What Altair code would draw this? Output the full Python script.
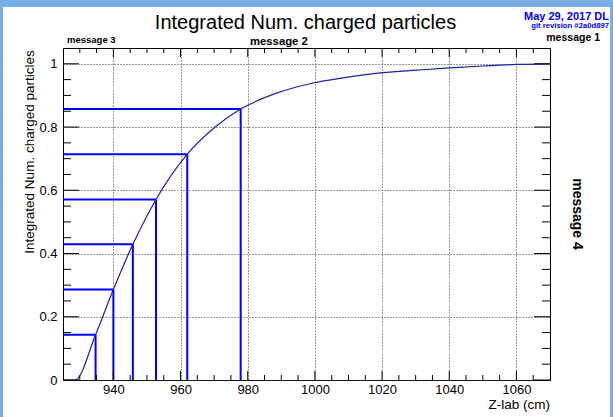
import altair as alt
import pandas as pd

# ---- data ----
curve_z = [925.0, 928.6, 934.7, 940.0, 945.8, 952.7, 962.0, 970.3, 977.9, 987.7,
           1000.2, 1007.5, 1020.1, 1030.4, 1040.1, 1050.2, 1060.2, 1070.0]
curve_v = [0.0, 0.0, 0.143, 0.286, 0.429, 0.571, 0.714, 0.800, 0.857, 0.904,
           0.941, 0.954, 0.972, 0.980, 0.987, 0.993, 0.998, 1.0]
step_z = [934.7, 940.0, 945.8, 952.7, 962.0, 977.9]
step_v = [0.143, 0.286, 0.429, 0.571, 0.714, 0.857]

x_major = [940, 960, 980, 1000, 1020, 1040, 1060]
x_minor = [930, 935, 945, 950, 955, 965, 970, 975, 985, 990, 995, 1005, 1010,
           1015, 1025, 1030, 1035, 1045, 1050, 1055, 1065]
y_major = [0.0, 0.2, 0.4, 0.6, 0.8, 1.0]
y_minor = [0.05, 0.1, 0.15, 0.25, 0.3, 0.35, 0.45, 0.5, 0.55, 0.65, 0.7, 0.75,
           0.85, 0.9, 0.95]

title_text = "Integrated Num. charged particles"
ytitle_text = "Integrated Num. charged particles"
xtitle_text = "Z-lab (cm)"
date_text = "May 29, 2017 DL"
git_text = "git revision #2a0d897"
msg1, msg2, msg3, msg4 = "message 1", "message 2", "message 3", "message 4"

# ---- layout ----
W, H = 487, 332
PL, PT = 63, 48
FONT = "Liberation Sans"
BLUE_FRAME = "#7aaee6"

xscale = alt.Scale(domain=[925, 1070], nice=False, zero=False)
yscale = alt.Scale(domain=[0, 1.05], nice=False, zero=False)
xaxis = alt.Axis(values=x_major, grid=True, gridDash=[1, 2], gridColor="#333333",
                 gridWidth=1, ticks=False, domain=False, labelFontSize=13,
                 labelFont=FONT, labelColor="black", labelPadding=3, title=None,
                 labelFlush=False, format="d")
yaxis = alt.Axis(values=y_major, grid=True, gridDash=[1, 2], gridColor="#333333",
                 gridWidth=1, ticks=False, domain=False, labelFontSize=13,
                 labelFont=FONT, labelColor="black", labelPadding=6, title=None,
                 format="~g", labelFlush=False)

def X():
    return alt.X("z:Q", scale=xscale, axis=xaxis)

def Y():
    return alt.Y("v:Q", scale=yscale, axis=yaxis)

curve_df = pd.DataFrame({"z": curve_z, "v": curve_v})
step_df = pd.DataFrame({"z": step_z, "v": step_v})

layers = []

# frame strips
for (x0, x1, y0, y1) in [(-PL, W + 63, -PT, -PT + 7), (-PL, -PL + 3, -PT, H + 37),
                         (W + 60, W + 63, -PT, H + 37)]:
    layers.append(alt.Chart(pd.DataFrame({"a": [0]})).mark_rect(color=BLUE_FRAME).encode(
        x=alt.value(x0), x2=alt.value(x1), y=alt.value(y0), y2=alt.value(y1)))

# step lines
layers.append(alt.Chart(step_df).mark_rule(color="#0000ff", strokeWidth=2).encode(
    x=X(), x2=alt.value(0), y=Y()))
layers.append(alt.Chart(step_df).mark_rule(color="#0000ff", strokeWidth=2).encode(
    x=X(), y=Y(), y2=alt.value(H)))

# curve
layers.append(alt.Chart(curve_df).mark_line(color="#1e1eb0", strokeWidth=1.2,
                                            interpolate="monotone").encode(x=X(), y=Y()))

# inward ticks
def xticks(vals, length):
    df = pd.DataFrame({"z": vals})
    out = []
    out.append(alt.Chart(df).mark_rule(color="black", strokeWidth=1).encode(
        x=X(), y=alt.value(H), y2=alt.value(H - length)))
    out.append(alt.Chart(df).mark_rule(color="black", strokeWidth=1).encode(
        x=X(), y=alt.value(0), y2=alt.value(length)))
    return out

def yticks(vals, length):
    df = pd.DataFrame({"v": vals})
    out = []
    out.append(alt.Chart(df).mark_rule(color="black", strokeWidth=1).encode(
        y=Y(), x=alt.value(0), x2=alt.value(length)))
    out.append(alt.Chart(df).mark_rule(color="black", strokeWidth=1).encode(
        y=Y(), x=alt.value(W), x2=alt.value(W - length)))
    return out

layers += xticks(x_major, 9) + xticks(x_minor, 5)
layers += yticks(y_major, 16) + yticks(y_minor, 8)

# texts
def text(t, x, y, size, bold=False, color="black", align="left", angle=0, baseline="alphabetic"):
    kw = dict(font=FONT, fontSize=size, color=color, align=align, baseline=baseline)
    if bold:
        kw["fontWeight"] = "bold"
    if angle:
        kw["angle"] = angle
    return alt.Chart(pd.DataFrame({"t": [t]})).mark_text(**kw).encode(
        text="t:N", x=alt.value(x), y=alt.value(y))

layers += [
    text(title_text, 305.5 - PL, 29 - PT, 20, align="center"),
    text(date_text, 609 - PL, 20 - PT, 11, bold=True, color="#0000ff", align="right"),
    text(git_text, 609 - PL, 27.5 - PT, 7.7, bold=True, color="#0000ff", align="right"),
    text(msg1, 600 - PL, 41 - PT, 10.5, bold=True, align="right"),
    text(msg3, 67 - PL, 43 - PT, 9.5, bold=True),
    text(msg2, 250 - PL, 45 - PT, 11.3, bold=True),
    text(msg4, 577 - PL, 214 - PT, 14, bold=True, align="center", angle=90, baseline="middle"),
    text(ytitle_text, 30 - PL, 152 - PT, 13.5, align="center", angle=270, baseline="middle"),
    text(xtitle_text, 550 - PL, 409 - PT, 13.5, align="right"),
]

chart = alt.layer(*layers).properties(
    width=W, height=H,
    autosize=alt.AutoSizeParams(type="none"),
    padding={"left": PL, "top": PT, "right": 613 - PL - W, "bottom": 417 - PT - H},
    background="white",
).configure_view(stroke="black", strokeWidth=1, fill="white")

chart.save("out.html", embed_options={"renderer": "svg", "actions": False})
